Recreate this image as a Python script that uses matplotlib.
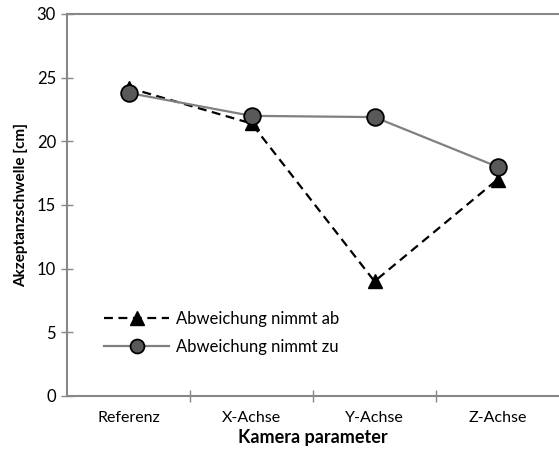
import matplotlib.pyplot as plt
from matplotlib.lines import Line2D

plt.rcParams['font.family'] = ['Lato', 'DejaVu Sans']

categories = ['Referenz', 'X-Achse', 'Y-Achse', 'Z-Achse']
abnehmend = [24.2, 21.4, 9.0, 17.0]
zunehmend = [23.8, 22.0, 21.9, 18.0]

fig = plt.figure(figsize=(5.59, 4.51), dpi=100)
ax = fig.add_axes([0.12, 0.122, 0.88, 0.847])

x = range(len(categories))
ab_style = dict(color='black', linestyle=(0, (4, 2.5)), linewidth=1.6,
                marker='^', markerfacecolor='black', markeredgecolor='black')
zu_style = dict(color='#808080', linewidth=1.6, marker='o',
                markerfacecolor='#595959', markeredgecolor='black', markeredgewidth=1.3)
ax.plot(x, abnehmend, markersize=10, zorder=3, **ab_style)
ax.plot(x, zunehmend, markersize=12, zorder=4, **zu_style)

ax.set_xlim(-0.5, len(categories) - 0.5)
ax.set_ylim(0, 30)
ax.set_yticks(range(0, 31, 5))
# category separators as major ticks, names as minor ticks
ax.set_xticks([i + 0.5 for i in range(len(categories) - 1)])
ax.set_xticklabels([])
ax.set_xticks(list(x), minor=True)
ax.set_xticklabels(categories, minor=True)
ax.tick_params(axis='x', which='minor', length=0, pad=11, labelsize=11.5)
ax.tick_params(axis='x', which='major', direction='inout', length=9, width=1, color='#888888')
ax.tick_params(axis='y', direction='inout', length=9, width=1, color='#888888', labelsize=12)

for side in ['left', 'bottom', 'top']:
    ax.spines[side].set_color('#888888')
    ax.spines[side].set_linewidth(1.5)
ax.spines['right'].set_visible(False)

ax.set_ylabel('Akzeptanzschwelle [cm]', fontweight='bold', fontsize=11, labelpad=6)
ax.set_xlabel('Kamera parameter', fontweight='bold', fontsize=13, labelpad=3)

handles = [Line2D([], [], markersize=10, **ab_style),
           Line2D([], [], markersize=10, **zu_style)]
ax.legend(handles, ['Abweichung nimmt ab', 'Abweichung nimmt zu'],
          loc='lower left', bbox_to_anchor=(0.045, 0.068), frameon=False,
          handlelength=3.9, handletextpad=0.4, fontsize=12, labelspacing=0.75)

fig.savefig('out.png', dpi=100)
